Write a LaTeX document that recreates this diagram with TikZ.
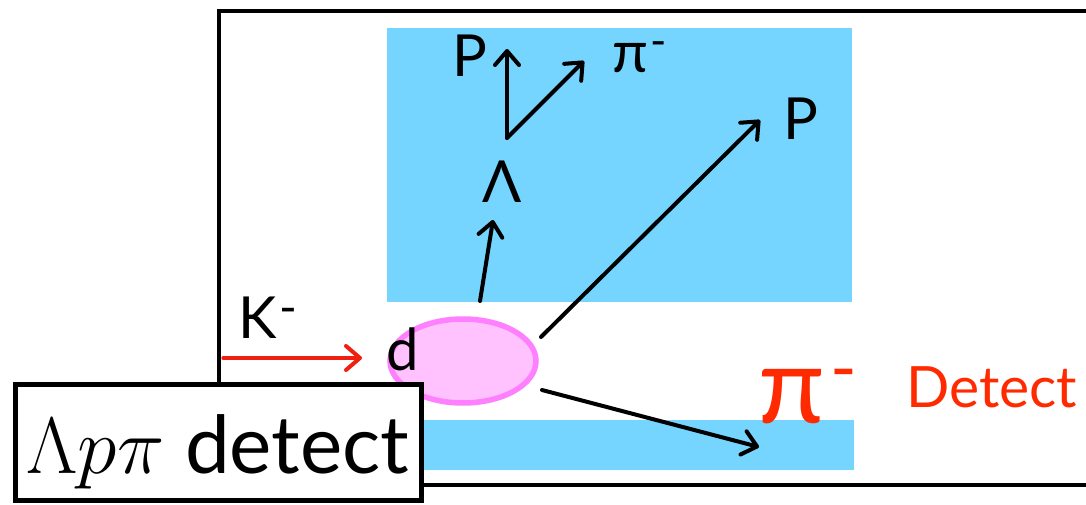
\RequirePackage{fix-cm}
\documentclass[tikz,border=0pt]{standalone}
\usepackage{fontspec}
\setmainfont{Lato}
\usetikzlibrary{arrows.meta,shapes.geometric}
\definecolor{detblue}{HTML}{75D5FF}
\definecolor{beamred}{HTML}{F02010}
\definecolor{pionred}{HTML}{FF2A00}
\definecolor{tgtline}{HTML}{FF80FF}
\definecolor{tgtfill}{HTML}{FFC2FF}
\tikzset{
  track/.style={line width=4pt, line cap=round,
    -{Straight Barb[length=14pt,width=24pt,line width=4pt,round]}},
  beam/.style={track, draw=beamred, line width=3.2pt},
  lbl/.style={inner sep=0pt, anchor=base, font=\fontsize{58}{60}\selectfont},
  redlbl/.style={inner sep=0pt, anchor=base, text=pionred},
}
% small raised charge sign: #1 = size, #2 = raise
\newcommand{\upminus}[2]{\raisebox{#2}{\fontsize{#1}{#1}\selectfont -}}
\begin{document}
\begin{tikzpicture}[x=1pt,y=-1pt]
\useasboundingbox (0,0) rectangle (1086,505);
% frame of the spectrometer
\draw[line width=3.5pt] (1090,11) -- (219,11) -- (219,485) -- (1090,485);
% detector regions
\fill[detblue] (387,28) rectangle (852,302);
\fill[detblue] (400,420) rectangle (854,470);
% deuteron target
\node[ellipse, draw=tgtline, fill=tgtfill, line width=5.5pt,
      minimum width=146pt, minimum height=84pt, inner sep=0pt] (tgt) at (463,361) {};
% labels
\node[lbl] (pA) at (470,77) {P};
\node[lbl] (piA) at (640,73) {π\kern2pt\upminus{44pt}{16pt}};
\node[lbl] (lam) at (502,202) {Λ};
\node[lbl] (pB) at (801,140) {P};
\node[lbl] (kaon) at (268,338) {K\kern2pt\upminus{48pt}{14pt}};
\node[lbl, anchor=base west] (deut) at (386,370) {d};
\node[redlbl, font=\fontsize{108}{110}\selectfont] (piBig) at (808,423) {π\kern6pt\upminus{72pt}{30pt}};
\node[redlbl, anchor=base west, font=\fontsize{57}{60}\selectfont] (dettxt) at (906,407) {Detect};
% track end points
\coordinate (kIn) at (223,358);
\coordinate (kTip) at (362,358);
\coordinate (lamOut) at (480,301);
\coordinate (lamTip) at (493,220);
\coordinate (vtx) at (507,138);
\coordinate (pTip) at (507,49);
\coordinate (piTip) at (584,61);
\coordinate (pOut) at (541,337);
\coordinate (pBTip) at (760,120);
\coordinate (piOut) at (542,390);
\coordinate (piBTip) at (759,447);
% tracks
\draw[beam] (kIn) -- (kTip);
\draw[track] (lamOut) -- (lamTip);
\draw[track] (vtx) -- (pTip);
\draw[track] (vtx) -- (piTip);
\draw[track] (pOut) -- (pBTip);
\draw[track] (piOut) -- (piBTip);
% channel tag
\node[draw, line width=5pt, fill=white, inner sep=0pt, anchor=base,
      text height=89pt, text depth=27pt, minimum width=406pt,
      font=\fontsize{80}{84}\selectfont] (tag) at (218,473) {$\Lambda p\pi$ detect};
\end{tikzpicture}
\end{document}
